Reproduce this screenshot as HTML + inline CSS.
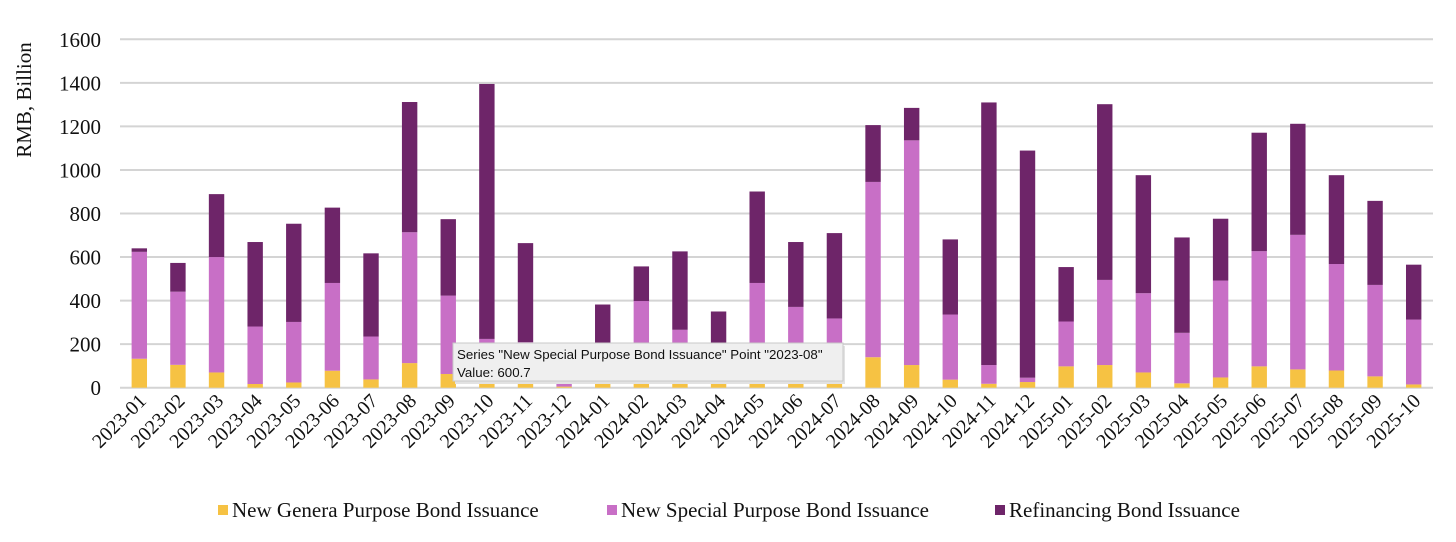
<!DOCTYPE html>
<html><head><meta charset="utf-8"><style>
body{margin:0;background:#fff;width:1456px;height:542px;overflow:hidden}
svg{display:block;font-family:"Liberation Serif",serif}
</style></head><body>
<svg id="c" width="1456" height="542"></svg>
<script>
const categories=["2023-01","2023-02","2023-03","2023-04","2023-05","2023-06","2023-07","2023-08","2023-09","2023-10","2023-11","2023-12","2024-01","2024-02","2024-03","2024-04","2024-05","2024-06","2024-07","2024-08","2024-09","2024-10","2024-11","2024-12","2025-01","2025-02","2025-03","2025-04","2025-05","2025-06","2025-07","2025-08","2025-09","2025-10"];
const general=[133,105,70,17,24,78,38,113,63,20,25,5,30,30,30,30,30,30,30,140,104,37,18,26,98,104,70,20,47,98,84,79,52,15];
const special=[491,336,530,264,278,403,197,601,360,204,184,15,20,368,236,40,451,341,288,805,1032,299,86,20,206,391,364,232,445,529,618,489,420,298];
const refinancing=[16,132,289,388,451,346,382,598,351,1171,455,5,332,159,360,280,420,298,392,261,149,345,1206,1043,250,807,542,438,284,544,510,408,386,252];
const yTicks=[0,200,400,600,800,1000,1200,1400,1600];
const NS="http://www.w3.org/2000/svg";
const svg=document.getElementById('c');
const X0=120,X1=1433,Y0=387.7,PX=348.4/1600;
const band=(X1-X0)/categories.length;
const xc=i=>X0+band*(i+0.5);
const y=v=>Y0-v*PX;
function mk(t,a){const e=document.createElementNS(NS,t);for(const k in a)e.setAttribute(k,a[k]);svg.appendChild(e);return e;}
yTicks.forEach(v=>{
 const l=mk('line',{x1:X0,x2:X1,y1:y(v),y2:y(v),stroke:'#d4d4d4','stroke-width':2});
 
 
 const t=mk('text',{x:101,y:y(v)+7.5,'text-anchor':'end','font-size':21,fill:'#111'});
 t.textContent=v;
 
 
});
const yt=mk('text',{x:0,y:0,transform:'translate(31,100) rotate(-90)','text-anchor':'middle','font-size':21,fill:'#111'});
yt.textContent='RMB, Billion';


const colors=['#F6C243','#C86FC6','#6E2569'];
const series=[general,special,refinancing];
const names=['general','special','refinancing'];
categories.forEach((c,i)=>{
 let base=0;
 series.forEach((s,k)=>{
  const v=s[i];
  const r=mk('rect',{x:xc(i)-7.7,width:15.4,y:y(base+v),height:v*PX,fill:colors[k]});
  
  
  base+=v;
 });
 const t=mk('text',{x:0,y:0,transform:'translate('+(xc(i)+8)+',402) rotate(-45)','text-anchor':'end','font-size':20,fill:'#111'});
 t.textContent=c;
 
 
});
// tooltip
const g=document.createElementNS(NS,'g');svg.appendChild(g);


const sh=document.createElementNS(NS,'rect');
[['x',455],['y',346],['width',390],['height',38],['fill','#e2e2e2']].forEach(a=>sh.setAttribute(a[0],a[1]));
g.appendChild(sh);
const tb=document.createElementNS(NS,'rect');
[['x',453],['y',343],['width',390],['height',38],['fill','#efefef'],['stroke','#c8c8c8'],['stroke-width',1]].forEach(a=>tb.setAttribute(a[0],a[1]));
g.appendChild(tb);
[['Series "New Special Purpose Bond Issuance" Point "2023-08"',359],['Value: 600.7',377]].forEach(p=>{
 const t=document.createElementNS(NS,'text');
 t.setAttribute('x',457);t.setAttribute('y',p[1]);t.setAttribute('font-size',13.3);t.setAttribute('fill','#111');
 t.setAttribute('font-family','"Liberation Sans",sans-serif');
 t.textContent=p[0];g.appendChild(t);
});
// legend
const leg=[['New Genera Purpose Bond Issuance',218],['New Special Purpose Bond Issuance',607],['Refinancing Bond Issuance',995]];
leg.forEach((l,k)=>{
 const r=mk('rect',{x:l[1],y:505,width:10,height:10,fill:colors[k]});
 
 
 const t=mk('text',{x:l[1]+14,y:517,'font-size':21,fill:'#111'});
 t.textContent=l[0];
 
 
});
</script>
</body></html>
